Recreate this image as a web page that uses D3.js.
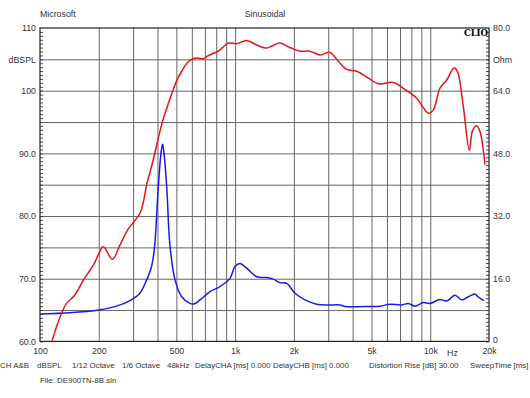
<!DOCTYPE html>
<html>
<head>
<meta charset="utf-8">
<script src="https://cdnjs.cloudflare.com/ajax/libs/d3/7.8.5/d3.min.js"></script>
<style>
  body { margin: 0; background: #fff; }
  svg { display: block; font-family: "Liberation Sans", Arial, sans-serif; }
  .lbl { font-size: 8.8px; fill: #333; }
  .foot { font-size: 7.9px; }
  .axis path { display: none; }
  .grid line { stroke: #666; stroke-width: 1; }
  .minor line { stroke: #444; }
</style>
</head>
<body>
<svg id="chart" width="530" height="398"></svg>
<script>
// frequency response (dBSPL, left axis)
const splData = [
  [110, 58.5], [115, 60.0], [122, 62.5], [129, 64.5], [137, 66.1], [151, 67.4], [167, 69.8],
  [188, 72.2], [200, 74.0], [211, 75.1], [235, 73.1], [257, 75.4], [283, 77.9], [325, 80.4],
  [340, 82.5], [352, 85.0], [370, 87.5], [388, 90.1], [408, 93.0], [429, 95.6], [455, 98.0],
  [482, 100.2], [505, 101.8], [532, 103.1], [560, 104.2], [587, 104.85], [635, 105.2],
  [687, 105.1], [720, 105.5], [758, 105.85], [820, 106.3], [870, 107.0], [923, 107.6],
  [1018, 107.5], [1146, 108.0], [1290, 107.3], [1451, 106.8], [1560, 107.2], [1698, 107.6],
  [1911, 106.9], [2150, 106.3], [2419, 106.3], [2722, 105.7], [3063, 106.1], [3379, 104.7],
  [3728, 103.4], [4196, 103.1], [4814, 102.0], [5416, 101.1], [6463, 101.3], [7419, 100.2],
  [8517, 98.8], [9211, 97.3], [9770, 96.4], [10365, 96.9], [11218, 100.4], [12140, 101.7],
  [13230, 103.6], [13800, 103.0], [14770, 97.5], [15860, 90.5], [16500, 93.7], [17300, 94.4],
  [17980, 93.5], [19080, 88.2]
];

// impedance (Ohm, right axis)
const impData = [
  [100, 7.0], [142, 7.3], [200, 8.0], [247, 9.0], [289, 10.4], [325, 12.3], [352, 15.7],
  [370, 18.5], [381, 21.6], [388, 25.0], [404, 39.5], [418, 48.5], [425, 50.4], [432, 48.0],
  [446, 39.5], [464, 24.2], [492, 15.7], [532, 11.4], [587, 9.7], [620, 9.6], [661, 10.6],
  [743, 12.7], [836, 14.0], [941, 16.1], [998, 19.1], [1059, 19.9], [1146, 18.7], [1290, 16.5],
  [1451, 16.3], [1568, 15.9], [1698, 15.0], [1837, 14.8], [2026, 12.3], [2281, 10.6],
  [2618, 9.5], [3003, 9.3], [3446, 9.3], [3656, 8.9], [4537, 8.9], [5527, 9.0], [6222, 9.5],
  [7137, 9.3], [7717, 9.7], [8352, 9.0], [9211, 9.9], [9966, 9.7], [11218, 10.7], [12140, 10.3],
  [13390, 11.8], [14490, 10.6], [15670, 11.4], [16950, 12.1], [17560, 11.4], [18850, 10.4]
];

const xTickValues = [100, 200, 500, 1000, 2000, 5000, 10000, 20000];
const xTickLabels = ["100", "200", "500", "1k", "2k", "5k", "10k", "20k"];
const xGridValues = [200, 300, 400, 500, 600, 700, 800, 900, 1000, 2000, 3000, 4000, 5000,
  6000, 7000, 8000, 9000, 10000];
const leftTickValues = [110, 105, 100, 90, 80, 70, 60];
const leftTickLabels = ["110", "dBSPL", "100", "90.0", "80.0", "70.0", "60.0"];
const rightTickValues = [80, 72, 64, 48, 32, 16, 0];
const rightTickLabels = ["80.0", "Ohm", "64.0", "48.0", "32.0", "16.0", "0"];
const footerItems = ["CH A&B", "dBSPL", "1/12 Octave", "1/6 Octave", "48kHz",
  "DelayCHA [ms] 0.000", "DelayCHB [ms] 0.000", "Distortion Rise [dB] 30.00", "SweepTime [ms]"];
const footerX = [0, 37, 72, 122, 167, 195, 273, 369, 470];

const margin = { left: 40, top: 28 };
const width = 449, height = 313.4;

const svg = d3.select("#chart");
const g = svg.append("g").attr("transform", `translate(${margin.left},${margin.top})`);

const x = d3.scaleLog().domain([100, 20000]).range([0, width]);
const yL = d3.scaleLinear().domain([60, 110]).range([height, 0]);
const yR = d3.scaleLinear().domain([0, 80]).range([height, 0]);

// grid
g.append("g").attr("class", "grid axis")
  .call(d3.axisLeft(yL).tickValues(d3.range(65, 110, 5)).tickSize(-width).tickFormat(""));
g.append("g").attr("class", "grid axis")
  .attr("transform", `translate(0,${height})`)
  .call(d3.axisBottom(x).tickValues(xGridValues).tickSize(-height).tickFormat(""));

// minor ticks inside left and right borders
const minorVals = d3.range(0, 80, 1);
g.append("g").attr("class", "minor axis")
  .call(d3.axisLeft(yR).tickValues(minorVals).tickSize(-3).tickFormat(""));
g.append("g").attr("class", "minor axis")
  .attr("transform", `translate(${width},0)`)
  .call(d3.axisRight(yR).tickValues(minorVals).tickSize(-3).tickFormat(""));

// border
g.append("rect").attr("width", width).attr("height", height)
  .attr("fill", "none").attr("stroke", "#222").attr("stroke-width", 1.2);

// axis labels
const leftAx = g.append("g").attr("class", "axis")
  .call(d3.axisLeft(yL).tickValues(leftTickValues).tickSize(0).tickPadding(4)
    .tickFormat((d, i) => leftTickLabels[i]));
const rightAx = g.append("g").attr("class", "axis")
  .attr("transform", `translate(${width},0)`)
  .call(d3.axisRight(yR).tickValues(rightTickValues).tickSize(0).tickPadding(4)
    .tickFormat((d, i) => rightTickLabels[i]));
const bottomAx = g.append("g").attr("class", "axis")
  .attr("transform", `translate(0,${height})`)
  .call(d3.axisBottom(x).tickValues(xTickValues).tickSize(0).tickPadding(6)
    .tickFormat((d, i) => xTickLabels[i]));
[leftAx, rightAx, bottomAx].forEach(a => a.selectAll("text")
  .attr("class", "lbl").attr("font-family", null).attr("font-size", null).attr("fill", null));
bottomAx.selectAll(".tick line").remove();
// the "0" of the right axis sits a little above the border, as in the original
rightAx.selectAll(".tick").filter(d => d === 0).select("text").attr("dy", "0.1em");

g.append("text").attr("class", "lbl").attr("x", x(13000)).attr("y", height + 15)
  .attr("text-anchor", "middle").text("Hz");

// curves
g.append("clipPath").attr("id", "plotclip").append("rect")
  .attr("width", width).attr("height", height);

const splLine = d3.line().x(d => x(d[0])).y(d => yL(d[1])).curve(d3.curveCatmullRom.alpha(0.5));
const impLine = d3.line().x(d => x(d[0])).y(d => yR(d[1])).curve(d3.curveCatmullRom.alpha(0.5));

g.append("path").datum(impData).attr("d", impLine)
  .attr("fill", "none").attr("stroke", "#1a1aee").attr("stroke-width", 1.5)
  .attr("clip-path", "url(#plotclip)");
g.append("path").datum(splData).attr("d", splLine)
  .attr("fill", "none").attr("stroke", "#e8141b").attr("stroke-width", 1.5)
  .attr("clip-path", "url(#plotclip)");

// header texts
svg.append("text").attr("class", "lbl").attr("x", 40).attr("y", 17).text("Microsoft");
svg.append("text").attr("class", "lbl").attr("x", 265).attr("y", 17)
  .attr("text-anchor", "middle").text("Sinusoidal");
svg.append("text").attr("x", margin.left + width - 1).attr("y", margin.top + 8)
  .attr("text-anchor", "end").attr("font-family", "'DejaVu Serif', serif")
  .attr("font-weight", "bold").attr("font-size", 8.5).attr("fill", "#000").text("CLIO");

// footer
svg.selectAll("text.foot").data(footerItems).join("text")
  .attr("class", "lbl foot").attr("x", (d, i) => footerX[i]).attr("y", 368).text(d => d);
svg.append("text").attr("class", "lbl foot").attr("x", 40).attr("y", 383).text("File: DE900TN-8B.sin");
</script>
</body>
</html>
